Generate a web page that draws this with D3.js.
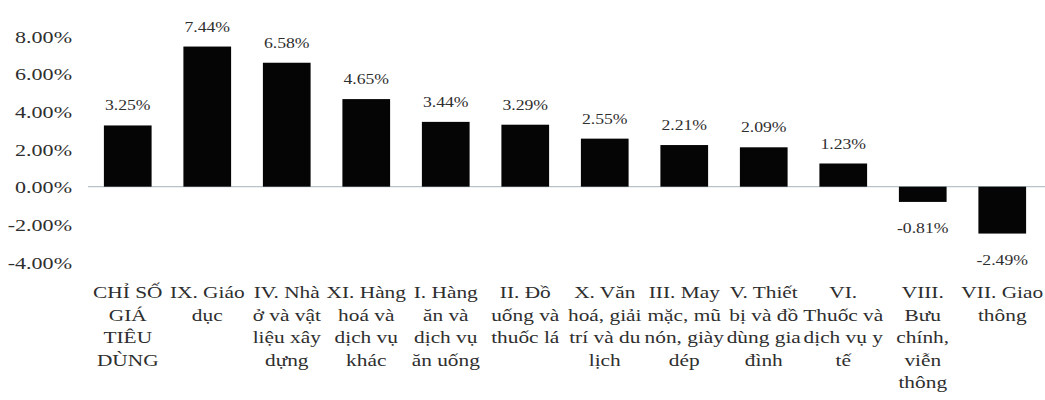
<!DOCTYPE html>
<html>
<head>
<meta charset="utf-8">
<script src="https://cdn.jsdelivr.net/npm/d3@7/dist/d3.min.js"></script>
<style>
  html, body { margin: 0; padding: 0; background: #fff; }
  svg { display: block; }
  text { font-family: "Liberation Serif", "Times New Roman", serif; fill: #2e2e2e; }
</style>
</head>
<body>
<svg id="chart" width="1045" height="400"></svg>
<script>
// ---- data ----
const categories = [
  "CHỈ SỐ\nGIÁ\nTIÊU\nDÙNG",
  "IX. Giáo\ndục",
  "IV. Nhà\nở và vật\nliệu xây\ndựng",
  "XI. Hàng\nhoá và\ndịch vụ\nkhác",
  "I. Hàng\năn và\ndịch vụ\năn uống",
  "II. Đồ\nuống và\nthuốc lá",
  "X. Văn\nhoá, giải\ntrí và du\nlịch",
  "III. May\nmặc, mũ\nnón, giày\ndép",
  "V. Thiết\nbị và đồ\ndùng gia\nđình",
  "VI.\nThuốc và\ndịch vụ y\ntế",
  "VIII.\nBưu\nchính,\nviễn\nthông",
  "VII. Giao\nthông"
];
const values = [3.25, 7.44, 6.58, 4.65, 3.44, 3.29, 2.55, 2.21, 2.09, 1.23, -0.81, -2.49];
const yTicks = [8, 6, 4, 2, 0, -2, -4];

// ---- layout ----
const svg = d3.select("#chart");
const SX = 1.22; // horizontal stretch of glyphs in the reference

const x = d3.scaleBand()
  .domain(d3.range(categories.length))
  .range([88, 1042])
  .paddingInner(0.4)
  .paddingOuter(0.2);

const y = d3.scaleLinear().domain([-4, 8]).range([262, 36]);

const fmt = v => v.toFixed(2) + "%";

// y tick labels
const yAxis = d3.axisLeft(y).tickValues(yTicks).tickSize(0).tickPadding(0).tickFormat(fmt);
const yg = svg.append("g").attr("transform", "translate(72,0)").call(yAxis);
yg.select(".domain").remove();
yg.selectAll(".tick text")
  .attr("x", null).attr("dy", null)
  .attr("text-anchor", "end")
  .attr("dominant-baseline", "central")
  .attr("transform", `scale(1.26,1)`)
  .style("font-family", '"Liberation Serif", serif')
  .style("font-size", "17.5px")
  .attr("fill", "#2e2e2e");

// zero line
svg.append("line")
  .attr("x1", 88).attr("x2", 1045)
  .attr("y1", y(0)).attr("y2", y(0))
  .attr("stroke", "#b9c3c7").attr("stroke-width", 1.2);

// bars
svg.append("g").selectAll("rect")
  .data(values)
  .join("rect")
  .attr("x", (d, i) => x(i))
  .attr("width", x.bandwidth())
  .attr("y", d => y(Math.max(0, d)))
  .attr("height", d => Math.abs(y(d) - y(0)))
  .attr("fill", "#050505");

// value labels
svg.append("g").selectAll("text")
  .data(values)
  .join("text")
  .attr("transform", (d, i) => {
    const cx = x(i) + x.bandwidth() / 2;
    const cy = d >= 0 ? y(d) - 15 : y(d) + 31;
    return `translate(${cx},${cy}) scale(${SX},1)`;
  })
  .attr("text-anchor", "middle")
  .style("font-size", "14.5px")
  .text(fmt);

// category labels
const cg = svg.append("g");
categories.forEach((c, i) => {
  const cx = x(i) + x.bandwidth() / 2;
  const t = cg.append("text")
    .attr("transform", `translate(${cx},298) scale(${SX},1)`)
    .attr("text-anchor", "middle")
    .style("font-size", "17.5px");
  c.split("\n").forEach((line, j) => {
    t.append("tspan").attr("x", 0).attr("y", j * 22.6).text(line);
  });
});
</script>
</body>
</html>
